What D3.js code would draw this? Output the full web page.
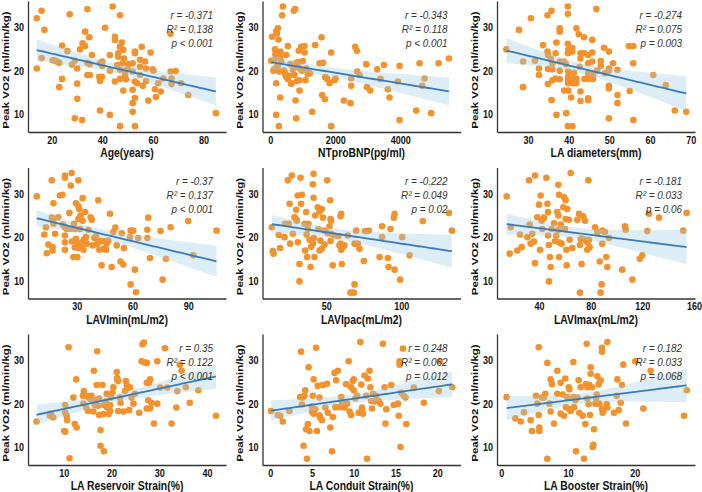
<!DOCTYPE html>
<html>
<head>
<meta charset="utf-8">
<script src="https://cdn.jsdelivr.net/npm/d3@7"></script>
<style>
  body { margin: 0; background: #fff; }
  svg { display: block; }
</style>
</head>
<body>
<div id="chart"></div>
<script>
// ---- data (x value, peak VO2) ----
const ageData = [[14.1,32.1],[16.0,33.8],[17.1,29.4],[14.1,20.5],[16.0,22.9],[20.4,22.4],[21.3,22.3],[22.0,22.1],[23.0,21.8],[24.1,25.8],[23.0,16.2],[24.1,18.1],[26.2,24.5],[27.1,33.0],[28.0,21.4],[29.1,22.3],[30.1,20.5],[30.1,17.0],[30.1,13.5],[29.1,9.0],[32.0,8.6],[31.2,24.9],[32.2,26.3],[33.2,29.0],[33.2,25.7],[34.1,34.2],[34.9,27.7],[34.1,21.8],[34.1,19.0],[35.1,19.0],[35.1,21.5],[35.9,23.6],[39.1,21.7],[38.8,18.6],[39.1,17.6],[39.9,18.6],[39.1,10.8],[41.1,29.9],[40.0,22.1],[40.0,21.1],[43.0,20.0],[43.0,23.6],[43.0,9.8],[44.1,34.8],[45.0,27.8],[45.0,27.1],[45.9,21.3],[45.0,17.5],[46.3,24.0],[46.3,23.2],[47.0,32.8],[47.0,25.5],[47.0,20.2],[47.0,18.1],[47.7,26.5],[48.3,24.8],[48.6,22.8],[48.0,21.7],[49.0,20.0],[49.0,19.0],[48.3,15.4],[47.0,7.2],[49.4,18.0],[50.3,21.5],[50.0,20.3],[52.0,21.7],[52.0,19.8],[52.0,15.6],[52.0,12.5],[52.0,10.5],[52.9,24.4],[52.9,24.0],[52.9,17.5],[52.9,13.7],[52.9,7.2],[53.8,17.1],[54.9,22.5],[54.9,20.9],[54.9,19.0],[55.6,25.5],[56.0,16.5],[56.9,22.1],[57.3,20.5],[57.3,17.6],[58.2,13.1],[59.1,24.2],[59.9,20.3],[60.2,20.0],[60.8,15.7],[61.2,13.9],[62.1,17.1],[63.1,15.2],[64.1,18.2],[67.0,19.8],[67.0,28.5],[67.4,18.2],[67.4,16.9],[69.0,19.9],[71.1,17.1],[74.0,14.4],[84.9,10.2]];

const bnpData = [[30,22.3],[60,27.8],[100,20.0],[133,22.5],[133,20.4],[150,24.9],[160,23.8],[185,29.0],[205,28.6],[210,21.0],[236,29.8],[250,24.3],[256,27.2],[267,24.0],[236,20.9],[185,17.1],[185,9.8],[267,7.2],[308,13.8],[277,19.8],[308,23.2],[318,24.4],[339,22.1],[369,32.8],[390,34.8],[420,20.0],[441,19.8],[460,19.2],[493,18.6],[493,23.6],[544,25.7],[544,18.1],[585,18.8],[620,21.5],[640,17.0],[667,17.1],[728,33.8],[769,34.2],[698,20.2],[749,19.0],[780,13.1],[800,9.0],[810,21.8],[851,20.9],[831,17.6],[870,22.0],[903,17.8],[882,24.6],[903,15.4],[903,20.5],[954,25.5],[980,20.0],[1005,22.2],[1057,25.7],[1057,24.2],[1108,20.5],[1088,17.8],[1159,19.2],[1221,19.4],[1293,10.5],[1385,25.9],[1519,21.7],[1580,27.7],[1600,14.4],[1631,21.8],[1683,13.4],[1693,18.5],[1755,18.1],[1826,17.1],[1877,24.2],[1877,7.2],[1980,17.8],[2011,18.2],[2267,13.1],[2472,12.5],[2493,16.5],[2493,18.2],[2616,25.5],[2667,24.6],[2678,19.8],[2750,19.0],[2955,21.5],[2976,16.2],[3078,15.4],[3293,20.3],[3396,18.1],[3499,21.3],[3622,15.7],[3673,13.8],[3930,17.5],[3981,21.1],[3981,8.6],[4494,10.8],[4596,21.7],[4678,16.5],[4750,18.2],[4955,10.2],[5181,21.7],[5500,22.8]];

const laDiamData = [[24.7,24.9],[27.8,29.4],[28.8,22.1],[28.8,16.2],[30.7,32.1],[31.7,22.3],[32.7,20.5],[32.7,19.0],[33.7,25.9],[34.8,32.8],[34.8,24.4],[34.9,23.6],[34.9,20.4],[34.9,16.9],[35.6,22.8],[35.8,33.8],[35.8,13.2],[36.0,21.7],[36.0,20.3],[36.0,17.8],[36.8,24.0],[37.0,26.5],[36.8,18.2],[37.0,9.8],[37.8,22.1],[37.8,29.8],[37.8,29.0],[37.8,20.0],[37.8,18.0],[38.9,22.1],[38.9,15.4],[39.3,21.5],[39.4,10.2],[39.8,34.8],[39.8,33.1],[39.8,26.2],[39.9,24.8],[39.8,24.0],[39.9,19.8],[39.9,18.6],[39.9,17.8],[39.9,17.1],[39.9,15.4],[39.8,7.2],[40.9,7.2],[40.6,13.8],[40.9,25.2],[40.9,24.4],[41.1,18.1],[41.1,17.1],[41.3,19.5],[41.9,18.1],[41.9,17.1],[41.9,29.8],[42.5,28.4],[42.7,20.9],[42.9,24.0],[42.9,22.8],[42.9,15.2],[42.9,13.0],[43.8,27.7],[43.8,24.0],[43.9,18.1],[44.8,19.4],[44.8,23.6],[44.8,21.7],[44.8,18.1],[44.8,13.6],[44.8,13.2],[45.8,27.1],[45.8,24.2],[45.8,22.1],[46.0,19.0],[46.0,18.1],[46.8,34.2],[47.0,20.0],[47.9,22.2],[47.9,21.1],[48.7,25.3],[48.9,19.4],[49.9,24.4],[49.9,20.5],[49.9,20.0],[49.9,16.5],[49.9,15.9],[49.9,9.0],[50.9,21.7],[52.0,20.2],[52.0,14.4],[52.0,12.5],[54.8,25.7],[55.0,15.3],[55.9,25.7],[55.9,21.7],[55.9,8.6],[60.8,19.0],[63.9,16.7],[66.1,10.8],[68.9,10.5]];

const laviMinData = [[8.5,29.4],[12.6,20.6],[13.5,22.3],[13.9,16.3],[14.8,18.3],[16.6,33.1],[16.6,24.5],[17.5,27.8],[17.5,23.1],[17.0,17.7],[17.0,16.9],[17.8,24.2],[18.4,20.8],[20.1,24.6],[21.0,29.6],[22.3,29.8],[22.5,22.9],[23.7,34.2],[23.7,33.7],[23.7,22.3],[23.7,20.4],[23.7,18.8],[23.7,17.1],[24.6,21.9],[26.1,25.6],[26.8,21.9],[26.8,31.9],[27.3,34.8],[27.5,19.0],[28.2,15.4],[28.6,23.1],[29.0,17.6],[29.1,21.9],[29.6,27.8],[29.6,19.6],[30.4,15.4],[30.4,18.5],[30.9,33.1],[30.9,27.1],[31.4,26.5],[30.9,24.2],[31.0,17.5],[31.8,21.9],[32.1,25.0],[32.7,18.8],[32.7,18.1],[33.2,23.8],[33.2,29.0],[33.6,17.1],[34.0,19.5],[34.5,25.8],[35.0,20.0],[35.4,18.5],[36.3,21.7],[37.5,24.6],[38.1,24.0],[38.6,18.1],[39.5,19.8],[40.4,20.2],[41.1,18.5],[41.6,28.5],[42.2,17.1],[42.5,19.1],[43.4,13.5],[44.3,17.3],[44.3,19.1],[45.8,17.1],[46.1,18.5],[47.0,19.2],[47.9,25.4],[48.8,13.1],[49.7,21.2],[50.8,22.2],[51.5,18.1],[53.6,14.4],[54.2,20.9],[55.1,13.7],[55.4,17.5],[58.7,20.0],[59.0,21.5],[59.0,9.1],[60.4,21.5],[61.3,12.5],[61.9,7.3],[63.1,19.8],[68.0,21.7],[68.5,24.5],[68.0,19.8],[69.4,15.2],[75.1,21.4],[76.2,10.2],[78.0,15.0],[80.5,22.3],[90.0,23.7],[92.7,15.8],[105.2,21.5]];

const laviPacData = [[13.8,22.3],[14.4,16.8],[14.9,16.2],[18.4,20.5],[19.3,17.5],[22.2,20.0],[22.7,23.1],[24.4,33.1],[25.1,23.1],[25.6,27.7],[26.0,18.5],[27.1,34.2],[27.8,20.8],[28.9,24.6],[30.0,24.2],[30.0,26.3],[30.4,23.8],[31.1,29.6],[31.1,18.8],[32.2,13.8],[32.2,9.8],[32.9,33.7],[33.3,27.7],[33.8,29.8],[35.6,23.1],[36.0,16.9],[36.7,25.8],[36.9,20.6],[37.3,15.4],[37.8,21.9],[38.2,23.1],[38.9,19.4],[39.6,13.1],[40.0,17.8],[41.1,18.5],[41.1,32.2],[41.6,34.6],[41.6,29.1],[41.8,19.8],[42.2,15.4],[42.7,25.0],[44.4,26.9],[44.9,21.9],[45.6,16.9],[45.6,25.9],[46.2,19.2],[47.1,26.5],[47.1,17.3],[47.8,24.5],[48.9,18.3],[48.9,21.5],[50.7,33.1],[51.1,20.9],[52.2,22.5],[52.7,28.5],[52.9,24.2],[52.9,19.1],[53.3,23.8],[53.3,20.8],[54.4,13.5],[55.6,20.4],[58.2,20.2],[58.9,18.1],[59.6,24.8],[60.0,25.4],[59.6,18.5],[60.0,17.1],[60.4,13.8],[61.1,17.7],[62.2,18.1],[64.4,20.4],[66.2,7.2],[68.4,7.2],[68.9,9.1],[68.9,18.5],[70.0,21.5],[71.1,18.5],[72.2,17.3],[75.1,14.5],[76.0,21.4],[78.4,21.5],[85.6,15.4],[87.3,22.5],[87.3,20.0],[91.1,15.2],[91.6,13.1],[92.9,21.9],[95.1,24.5],[95.6,25.4],[95.6,12.5],[99.3,10.2],[100.7,20.0],[105.6,15.8],[114.4,23.7],[131.8,25.6],[133.8,21.5]];

const laviMaxData = [[15.0,29.4],[17.3,16.2],[18.1,22.3],[23.2,16.9],[25.3,20.6],[26.6,17.7],[31.0,20.0],[32.3,33.1],[32.8,22.9],[33.5,18.5],[34.8,20.8],[36.1,19.0],[36.9,34.2],[36.9,14.0],[38.7,24.6],[40.0,27.5],[40.8,17.1],[41.3,29.6],[42.1,23.8],[42.6,21.9],[43.9,24.5],[45.7,33.7],[46.5,27.7],[47.0,25.8],[47.0,20.4],[47.7,18.2],[47.7,9.8],[48.5,15.4],[49.0,13.1],[49.8,21.9],[51.6,23.2],[52.4,19.1],[53.4,20.4],[54.2,25.8],[55.0,32.1],[55.0,25.0],[55.5,29.8],[55.0,21.7],[55.5,18.8],[55.5,15.4],[56.8,22.9],[57.5,18.5],[58.8,26.9],[59.4,29.2],[60.6,28.5],[60.6,24.2],[60.1,21.9],[61.2,17.1],[61.4,13.5],[61.9,26.5],[63.2,24.0],[63.7,19.4],[64.5,34.8],[65.8,17.5],[69.7,24.0],[71.0,25.4],[71.7,18.2],[71.7,7.2],[72.3,19.6],[73.0,13.8],[73.5,19.6],[74.3,24.8],[75.4,19.4],[75.6,23.8],[77.4,17.1],[78.2,33.1],[77.4,18.8],[78.7,19.4],[79.2,17.7],[83.4,22.3],[85.2,21.2],[87.0,14.4],[87.7,7.2],[88.5,9.1],[89.0,18.5],[89.0,21.5],[91.1,21.2],[92.1,15.4],[92.9,13.1],[94.2,19.8],[104.5,12.5],[106.6,22.5],[107.1,21.7],[112.3,10.2],[118.0,15.0],[120.0,15.8],[123.9,21.4],[125.2,25.4],[132.9,24.5],[151.7,21.5],[154.3,25.6]];

const reservoirData = [[4.3,15.9],[7.1,17.2],[7.3,17.7],[7.8,16.8],[10.3,19.7],[10.3,17.9],[10.1,13.7],[10.3,13.5],[10.6,17.2],[10.7,16.2],[11.0,33.0],[11.2,7.4],[12.0,21.4],[12.3,15.3],[12.6,25.6],[12.7,14.5],[14.0,21.8],[14.1,20.0],[14.2,22.9],[14.7,19.1],[14.8,21.8],[15.1,18.3],[15.3,21.4],[15.6,21.0],[15.8,21.8],[16.2,18.2],[16.3,27.6],[16.5,19.7],[16.7,20.8],[16.9,24.3],[17.0,32.1],[17.2,19.5],[17.4,21.2],[17.4,17.4],[17.7,13.9],[17.7,10.3],[18.1,24.3],[18.3,17.6],[18.4,9.0],[18.4,19.7],[18.8,20.5],[19.0,22.3],[19.1,19.1],[19.4,17.6],[19.7,18.3],[19.7,19.7],[19.9,21.4],[20.2,22.5],[20.4,23.8],[21.1,27.3],[21.2,25.9],[21.2,25.5],[21.4,25.2],[21.4,18.3],[21.8,21.4],[21.9,20.2],[22.5,18.2],[22.8,22.9],[23.0,25.2],[23.2,24.3],[23.3,23.5],[23.7,18.5],[23.9,23.8],[24.2,21.4],[24.6,20.0],[24.9,22.3],[25.8,17.9],[26.3,29.8],[26.5,33.7],[26.8,34.1],[27.0,29.5],[27.4,29.4],[27.4,24.8],[27.4,18.9],[27.7,20.8],[28.1,25.6],[27.9,24.8],[28.1,18.9],[28.4,20.2],[28.9,15.4],[29.6,29.8],[29.6,20.0],[30.2,23.7],[31.2,32.8],[31.7,23.7],[32.6,15.4],[33.6,19.1],[33.8,22.9],[34.3,29.0],[34.7,27.6],[35.6,23.8],[36.4,20.2],[38.2,23.1],[41.9,17.2]];

const conduitData = [[0.1,18.3],[0.9,17.4],[1.2,17.2],[1.5,15.9],[2.3,18.3],[3.7,32.0],[3.6,21.5],[3.9,21.4],[3.8,19.8],[4.0,10.3],[4.1,21.8],[4.2,23.1],[4.3,14.1],[4.4,7.3],[4.5,15.3],[4.6,28.4],[4.7,13.7],[5.0,19.4],[5.0,18.2],[5.1,21.8],[5.2,25.6],[5.2,17.7],[5.4,18.7],[5.5,32.9],[5.6,13.7],[5.7,24.1],[5.9,21.4],[5.9,17.3],[6.0,16.7],[6.2,16.2],[6.3,24.3],[6.6,19.1],[6.8,24.6],[6.9,17.9],[7.2,14.5],[7.4,9.0],[7.5,16.9],[7.7,27.1],[7.8,19.2],[7.9,25.4],[8.1,27.6],[8.3,19.2],[8.5,21.5],[8.6,20.2],[8.9,19.1],[9.1,24.5],[9.2,20.0],[9.4,29.8],[9.5,18.2],[9.7,23.8],[9.7,17.4],[9.9,25.2],[10.0,25.6],[10.0,23.1],[10.2,21.2],[10.4,21.8],[10.6,17.9],[10.7,17.9],[10.8,34.2],[10.9,24.4],[11.0,19.1],[11.0,18.3],[11.1,17.7],[11.3,26.5],[11.5,21.8],[11.6,7.3],[11.7,25.8],[11.9,27.6],[12.0,23.8],[12.1,20.6],[12.2,18.9],[12.3,22.3],[12.5,20.5],[12.7,21.8],[13.0,20.6],[13.2,20.0],[13.5,33.8],[13.7,23.8],[13.8,15.4],[13.9,18.7],[14.5,24.3],[14.8,19.7],[15.3,20.0],[15.4,17.2],[15.5,29.0],[15.5,29.8],[15.6,10.0],[15.7,22.5],[15.9,32.7],[16.0,21.8],[16.2,21.4],[16.3,15.3],[17.2,23.7],[18.4,20.2],[20.2,22.9],[20.3,29.8],[21.8,23.8]];

const boosterData = [[0.8,21.5],[2.1,16.6],[2.9,15.9],[3.4,18.0],[4.4,16.2],[4.6,13.7],[5.2,21.8],[5.4,20.0],[5.6,33.0],[5.6,17.4],[5.7,14.5],[5.7,13.7],[6.1,21.4],[6.4,21.4],[6.6,22.3],[6.9,29.4],[6.9,7.3],[7.2,20.0],[7.4,25.6],[7.6,24.5],[7.4,18.2],[7.9,15.4],[8.4,27.6],[8.4,22.3],[8.9,24.8],[8.9,17.7],[9.2,22.1],[9.4,17.2],[9.6,25.8],[9.7,19.2],[9.9,21.5],[10.1,23.8],[10.2,23.3],[10.2,18.7],[10.4,18.3],[10.8,29.6],[10.8,21.5],[10.9,19.2],[11.1,20.8],[11.2,9.0],[11.4,21.4],[11.6,25.4],[11.7,17.9],[11.9,23.8],[12.2,17.2],[12.4,7.3],[12.6,15.3],[12.7,24.5],[12.8,33.8],[12.9,23.8],[12.9,21.2],[13.1,19.9],[13.2,24.3],[13.3,17.4],[13.4,28.4],[13.4,26.9],[13.6,23.8],[13.7,10.0],[13.8,10.5],[13.9,14.1],[14.1,20.0],[14.2,21.2],[14.3,22.1],[14.4,26.3],[14.6,24.5],[14.7,20.0],[14.9,25.4],[15.1,32.9],[15.1,32.0],[15.1,18.7],[15.2,17.9],[15.3,18.2],[15.8,19.9],[15.9,34.2],[15.9,19.1],[16.9,17.9],[17.3,21.8],[17.4,25.6],[17.6,18.5],[17.9,20.2],[18.1,24.3],[18.3,29.0],[18.7,15.4],[20.1,29.8],[21.3,18.9],[22.4,27.6],[27.4,17.2],[27.8,23.1]];

// ---- labels / stats ----
const xTitles = ["Age(years)", "NTproBNP(pg/ml)", "LA diameters(mm)",
  "LAVImin(mL/m2)", "LAVIpac(mL/m2)", "LAVImax(mL/m2)",
  "LA Reservoir Strain(%)", "LA Conduit Strain(%)", "LA Booster Strain(%)"];
const xTickValues = [[20,40,60,80],[0,2000,4000],[30,40,50,60,70],
  [30,60,90],[50,100],[40,80,120,160],
  [10,20,30,40],[0,5,10,15,20],[0,10,20]];
const xDomains = [[10.63,88.9],[-236,5856],[22.38,71.07],
  [3.82,110.3],[7.55,139.55],[7.48,160.8],
  [2.5,44.0],[-0.92,22.79],[-0.65,29.05]];
const rText = ["r = -0.371","r = -0.343","r = -0.274","r = -0.37","r = -0.222","r = -0.181","r = 0.35","r = 0.248","r = 0.182"];
const r2Text = ["R² = 0.138","R² = 0.118","R² = 0.075","R² = 0.137","R² = 0.049","R² = 0.033","R² = 0.122","R² = 0.062","R² = 0.033"];
const pText = ["p < 0.001","p < 0.001","p = 0.003","p < 0.001","p = 0.02","p = 0.06","p < 0.001","p = 0.012","p = 0.068"];
const yTickValues = [10, 20, 30];
const yTitle = "Peak VO2 (ml/min/kg)";
const datasets = [ageData, bnpData, laDiamData, laviMinData, laviPacData, laviMaxData, reservoirData, conduitData, boosterData];

// ---- layout ----
const width = 702, height = 492;
const colStep = 234.5, rowStep = 166.5;
const plotLeft = 28, plotRight = 226, plotTop = 1, plotBottom = 132;
const font = "'Liberation Sans', Arial, Helvetica, sans-serif";

const svg = d3.select("#chart").append("svg")
  .attr("width", width)
  .attr("height", height);

const y = d3.scaleLinear().domain([5.85, 36.07]).range([plotBottom, plotTop]);

// OLS fit with 95% confidence band over the data range
function regression(data) {
  const n = data.length;
  const mx = d3.mean(data, d => d[0]);
  const my = d3.mean(data, d => d[1]);
  let sxx = 0, sxy = 0;
  data.forEach(([a, b]) => { sxx += (a - mx) ** 2; sxy += (a - mx) * (b - my); });
  const slope = sxy / sxx, icpt = my - slope * mx;
  let sse = 0;
  data.forEach(([a, b]) => { sse += (b - icpt - slope * a) ** 2; });
  const s = Math.sqrt(sse / (n - 2));
  const t = 1.984;
  const [x0, x1] = d3.extent(data, d => d[0]);
  return d3.range(61).map(k => {
    const xv = x0 + (x1 - x0) * k / 60;
    const yh = icpt + slope * xv;
    const se = s * Math.sqrt(1 / n + (xv - mx) ** 2 / sxx);
    return { x: xv, y: yh, lo: yh - t * se, hi: yh + t * se };
  });
}

datasets.forEach((data, i) => {
  const g = svg.append("g")
    .attr("transform", `translate(${(i % 3) * colStep},${Math.floor(i / 3) * rowStep})`);

  const x = d3.scaleLinear().domain(xDomains[i]).range([plotLeft, plotRight]);

  // points
  g.append("g")
    .selectAll("circle")
    .data(data)
    .join("circle")
    .attr("cx", d => x(d[0]))
    .attr("cy", d => y(d[1]))
    .attr("r", 3.3)
    .attr("fill", "#f3922c");

  // regression band + line
  const fit = regression(data);
  g.append("path")
    .datum(fit)
    .attr("d", d3.area().x(d => x(d.x)).y0(d => y(d.lo)).y1(d => y(d.hi)))
    .attr("fill", "#9ecae1")
    .attr("opacity", 0.35);
  g.append("path")
    .datum(fit)
    .attr("d", d3.line().x(d => x(d.x)).y(d => y(d.y)))
    .attr("fill", "none")
    .attr("stroke", "#3b7ab8")
    .attr("stroke-width", 1.8);

  // axes
  const xAxis = g.append("g")
    .attr("transform", `translate(0,${plotBottom})`)
    .call(d3.axisBottom(x).tickValues(xTickValues[i]).tickSize(0).tickPadding(4).tickFormat(d3.format("d")));
  const yAxis = g.append("g")
    .attr("transform", `translate(${plotLeft},0)`)
    .call(d3.axisLeft(y).tickValues(yTickValues).tickSize(0).tickPadding(5));

  [xAxis, yAxis].forEach(ax => {
    ax.select(".domain").attr("stroke", "#333").attr("stroke-width", 1.3);
    ax.selectAll("text")
      .attr("font-family", font)
      .attr("font-size", 11)
      .attr("font-weight", "bold")
      .attr("fill", "#111")
      .attr("transform", "scale(0.82,1)");
  });

  // axis titles
  g.append("text")
    .attr("transform", `translate(${(plotLeft + plotRight) / 2},157) scale(0.77,1)`)
    .attr("text-anchor", "middle")
    .attr("font-family", font)
    .attr("font-size", 13.5)
    .attr("font-weight", "bold")
    .attr("fill", "#111")
    .text(xTitles[i]);

  g.append("text")
    .attr("transform", "translate(8.5,70) scale(0.83,1) rotate(-90)")
    .attr("text-anchor", "middle")
    .attr("font-family", font)
    .attr("font-size", 11.5)
    .attr("font-weight", "bold")
    .attr("fill", "#111")
    .text(yTitle);

  // stats annotation
  [rText[i], r2Text[i], pText[i]].forEach((s, k) => {
    g.append("text")
      .attr("transform", `translate(213,${18.5 + k * 14.2}) scale(0.86,1)`)
      .attr("text-anchor", "end")
      .attr("font-family", font)
      .attr("font-size", 11.5)
      .attr("font-style", "italic")
      .attr("fill", "#333")
      .text(s);
  });
});
</script>
</body>
</html>
